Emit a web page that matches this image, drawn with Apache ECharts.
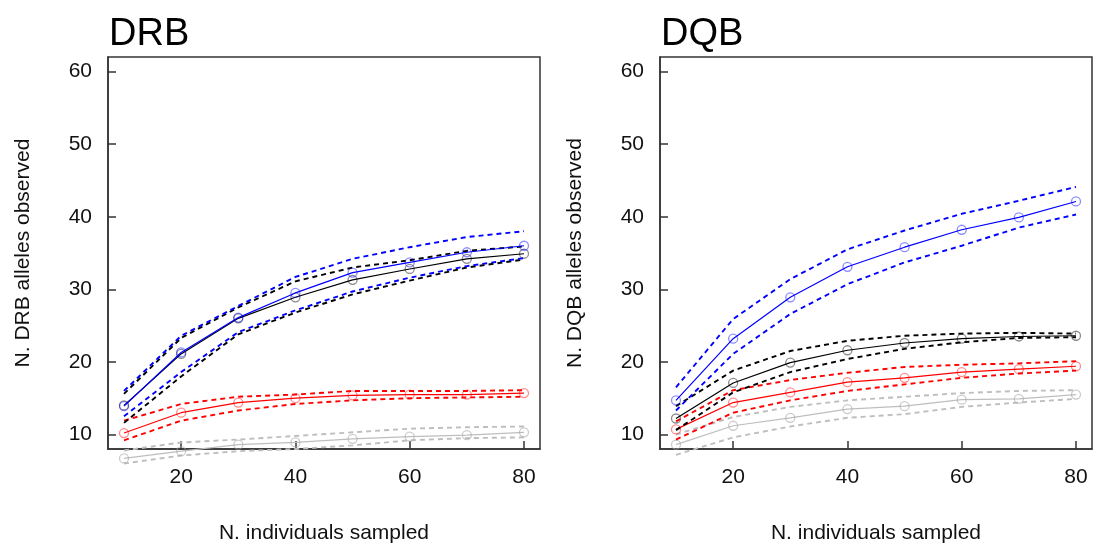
<!DOCTYPE html>
<html>
<head>
<meta charset="utf-8">
<script src="https://cdn.jsdelivr.net/npm/echarts@6/dist/echarts.min.js"></script>
<style>
html,body{margin:0;padding:0;background:#fff;}
#chart{width:1093px;height:544px;}
</style>
</head>
<body>
<div id="chart"></div>
<script>
// ---- data ----
const X_VALUES = [10, 20, 30, 40, 50, 60, 70, 80];
const X_TICKS = [20, 40, 60, 80];
const Y_TICKS = [10, 20, 30, 40, 50, 60];
const PANEL_TITLES = ['DRB', 'DQB'];
const Y_NAMES = ['N. DRB alleles observed', 'N. DQB alleles observed'];
const X_NAME = 'N. individuals sampled';

// DRB panel
const drbBlue    = [13.9, 21.3, 26.1, 29.5, 32.3, 33.7, 35.1, 36.0];
const drbBlueHi  = [16.0, 23.6, 27.7, 31.7, 34.2, 35.8, 37.2, 38.0];
const drbBlueLo  = [12.5, 18.6, 24.1, 27.1, 29.7, 31.6, 33.2, 34.3];
const drbBlack   = [14.0, 21.1, 26.0, 28.9, 31.3, 32.8, 34.2, 34.9];
const drbBlackHi = [15.6, 23.3, 27.5, 31.1, 33.0, 34.0, 35.3, 35.9];
const drbBlackLo = [11.6, 18.0, 23.8, 26.8, 29.3, 31.2, 33.0, 34.1];
const drbRed     = [10.2, 13.0, 14.4, 15.0, 15.4, 15.5, 15.5, 15.7];
const drbRedHi   = [11.9, 14.2, 15.2, 15.5, 16.0, 16.0, 16.0, 16.1];
const drbRedLo   = [9.2, 11.9, 13.3, 14.2, 14.7, 15.0, 15.1, 15.2];
const drbGray    = [6.7, 7.7, 8.6, 8.9, 9.4, 9.7, 9.9, 10.3];
const drbGrayHi  = [7.8, 8.9, 9.3, 9.8, 10.3, 10.8, 11.0, 11.1];
const drbGrayLo  = [6.0, 7.1, 7.7, 8.0, 8.5, 9.2, 9.5, 9.6];

// DQB panel
const dqbBlue    = [14.7, 23.2, 28.9, 33.1, 35.8, 38.2, 39.9, 42.1];
const dqbBlueHi  = [16.5, 25.9, 31.4, 35.5, 38.1, 40.4, 42.2, 44.1];
const dqbBlueLo  = [13.3, 21.1, 26.6, 30.7, 33.7, 36.0, 38.5, 40.3];
const dqbBlack   = [12.2, 17.1, 19.9, 21.6, 22.6, 23.2, 23.5, 23.6];
const dqbBlackHi = [13.9, 18.8, 21.5, 22.9, 23.6, 23.9, 24.0, 23.9];
const dqbBlackLo = [10.6, 15.8, 18.6, 20.4, 21.8, 22.7, 23.3, 23.4];
const dqbRed     = [10.7, 14.4, 15.8, 17.2, 17.8, 18.6, 19.0, 19.4];
const dqbRedHi   = [11.8, 16.1, 17.5, 18.5, 19.3, 19.6, 19.8, 20.1];
const dqbRedLo   = [9.3, 13.0, 14.7, 16.0, 16.9, 17.8, 18.4, 18.8];
const dqbGray    = [8.6, 11.2, 12.3, 13.5, 13.9, 14.8, 14.9, 15.5];
const dqbGrayHi  = [10.0, 12.4, 13.8, 14.7, 15.2, 15.7, 16.0, 16.1];
const dqbGrayLo  = [7.2, 9.6, 11.1, 12.3, 12.8, 13.8, 14.4, 14.9];

// ---- build ----
const FONT = '"Liberation Sans", Arial, sans-serif';
const groups = [
  [ // DRB
    {mean: drbGray, hi: drbGrayHi, lo: drbGrayLo, color: '#bebebe', mk: 'rgba(170,170,170,0.6)'},
    {mean: drbRed, hi: drbRedHi, lo: drbRedLo, color: '#ff0000', mk: 'rgba(255,0,0,0.45)'},
    {mean: drbBlack, hi: drbBlackHi, lo: drbBlackLo, color: '#000000', mk: 'rgba(0,0,0,0.45)'},
    {mean: drbBlue, hi: drbBlueHi, lo: drbBlueLo, color: '#0000ff', mk: 'rgba(0,0,255,0.45)'}
  ],
  [ // DQB
    {mean: dqbGray, hi: dqbGrayHi, lo: dqbGrayLo, color: '#bebebe', mk: 'rgba(170,170,170,0.6)'},
    {mean: dqbRed, hi: dqbRedHi, lo: dqbRedLo, color: '#ff0000', mk: 'rgba(255,0,0,0.45)'},
    {mean: dqbBlack, hi: dqbBlackHi, lo: dqbBlackLo, color: '#000000', mk: 'rgba(0,0,0,0.45)'},
    {mean: dqbBlue, hi: dqbBlueHi, lo: dqbBlueLo, color: '#0000ff', mk: 'rgba(0,0,255,0.45)'}
  ]
];

function pairs(arr) { return X_VALUES.map((x, i) => [x, arr[i]]); }

const series = [];
groups.forEach((grp, gi) => {
  grp.forEach((g, k) => {
    [g.hi, g.lo].forEach(arr => {
      series.push({
        type: 'line', xAxisIndex: gi, yAxisIndex: gi, data: pairs(arr),
        showSymbol: false, symbol: 'none', clip: false, silent: true, z: 2 + k,
        lineStyle: {color: g.color, width: 1.9, type: [5, 4]}
      });
    });
    series.push({
      type: 'line', xAxisIndex: gi, yAxisIndex: gi, data: pairs(g.mean),
      symbol: 'circle', symbolSize: 9, showSymbol: true, clip: false, silent: true, z: 2 + k,
      lineStyle: {color: g.color, width: 1.2},
      itemStyle: {color: 'rgba(255,255,255,0)', borderColor: g.mk, borderWidth: 1.3}
    });
  });
});

const grids = [
  {left: 108, top: 57, width: 432, height: 392},
  {left: 660, top: 57, width: 432, height: 392}
].map(g => Object.assign({
  show: true, borderColor: '#333', borderWidth: 1.5, backgroundColor: 'transparent',
  containLabel: false, outerBoundsMode: 'none'
}, g));

const xAxes = [0, 1].map(i => ({
  type: 'value', gridIndex: i, min: 7.2, max: 82.8,
  name: X_NAME, nameLocation: 'middle', nameGap: 74,
  nameTextStyle: {fontFamily: FONT, fontSize: 21, color: '#111'},
  axisLine: {show: true, lineStyle: {color: '#333', width: 1.5}},
  axisTick: {show: true, inside: true, length: 8, customValues: X_TICKS, lineStyle: {color: '#333', width: 1.5}},
  axisLabel: {customValues: X_TICKS, margin: 18, fontFamily: FONT, fontSize: 21, color: '#111'},
  splitLine: {show: false}
}));

const yAxes = [0, 1].map(i => ({
  type: 'value', gridIndex: i, min: 8, max: 62,
  name: Y_NAMES[i], nameLocation: 'middle', nameGap: 74, nameRotate: 90,
  nameTextStyle: {fontFamily: FONT, fontSize: 21, color: '#111'},
  axisLine: {show: true, lineStyle: {color: '#333', width: 1.5}},
  axisTick: {show: true, inside: true, length: 8, customValues: Y_TICKS, lineStyle: {color: '#333', width: 1.5}},
  axisLabel: {customValues: Y_TICKS, margin: 16, fontFamily: FONT, fontSize: 21, color: '#111'},
  splitLine: {show: false}
}));

const titles = PANEL_TITLES.map((t, i) => ({
  text: t, left: i === 0 ? 104 : 656, top: 11,
  textStyle: {fontFamily: FONT, fontSize: 38, fontWeight: 'normal', color: '#000'}
}));

const chart = echarts.init(document.getElementById('chart'), null, {renderer: 'canvas'});
chart.setOption({
  animation: false,
  backgroundColor: '#fff',
  title: titles,
  grid: grids,
  xAxis: xAxes,
  yAxis: yAxes,
  series: series
});
</script>
</body>
</html>
